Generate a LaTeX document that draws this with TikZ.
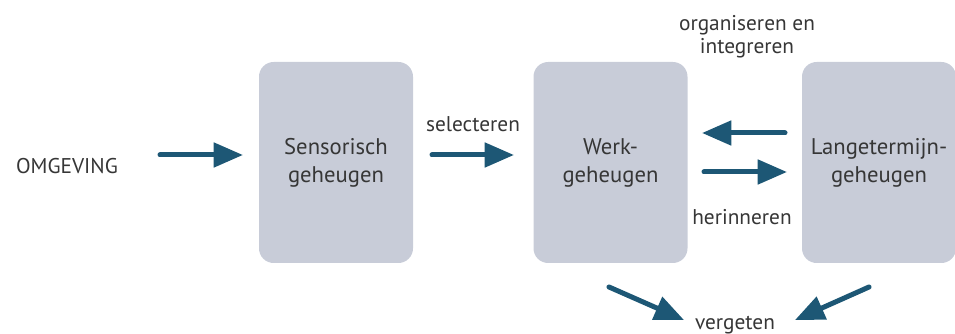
\documentclass[tikz,border=0pt]{standalone}
\usepackage{fontspec}
\setmainfont{PT Sans}
\usepackage{tikz}
\usetikzlibrary{arrows.meta,positioning}
\definecolor{vak}{HTML}{C8CCD8}
\definecolor{pijlkleur}{HTML}{1D5775}
\definecolor{tekst}{HTML}{363636}

\begin{document}
\begin{tikzpicture}
[
   x=0.75pt,y=-0.75pt,
   geheugen/.style={rectangle,rounded corners=11pt,fill=vak,minimum width=115.5pt,minimum height=150.75pt,
      align=center,text=tekst,font=\fontsize{17}{21}\selectfont},
   woord/.style={align=center,text=tekst,font=\fontsize{16}{17}\selectfont},
   pijl/.style={draw=pijlkleur,line width=3.75pt,line cap=round,-{Triangle[length=22pt,width=18pt]}}]
\useasboundingbox (0,0) rectangle (955,334);

\node[geheugen] (sens) at (336,162.5) {Sensorisch\\geheugen};
\node[geheugen] (werk) at (610.5,162.5) {Werk-\\geheugen};
\node[geheugen] (lang) at (879,162.5) {Langetermijn-\\geheugen};

\node[woord] (omg) at (67,166) {OMGEVING};
\node[woord] (sel) at (473,124) {selecteren};
\node[woord] (org) at (747,37) {organiseren en\\integreren};
\node[woord] (her) at (742,217) {herinneren};
\node[woord] (verg) at (735,325) {vergeten};

\coordinate (p1) at (160,155); \coordinate (q1) at (243,155);
\coordinate (p2) at (432,155); \coordinate (q2) at (514,155);
\coordinate (p3) at (785,133); \coordinate (q3) at (702,133);
\coordinate (p4) at (704,172); \coordinate (q4) at (787,172);
\coordinate (p5) at (609,287); \coordinate (q5) at (684,320);
\coordinate (p6) at (869,287); \coordinate (q6) at (795,320);

\foreach \i in {1,...,6}
   \draw[pijl] (p\i) -- (q\i);

\end{tikzpicture}
\end{document}
